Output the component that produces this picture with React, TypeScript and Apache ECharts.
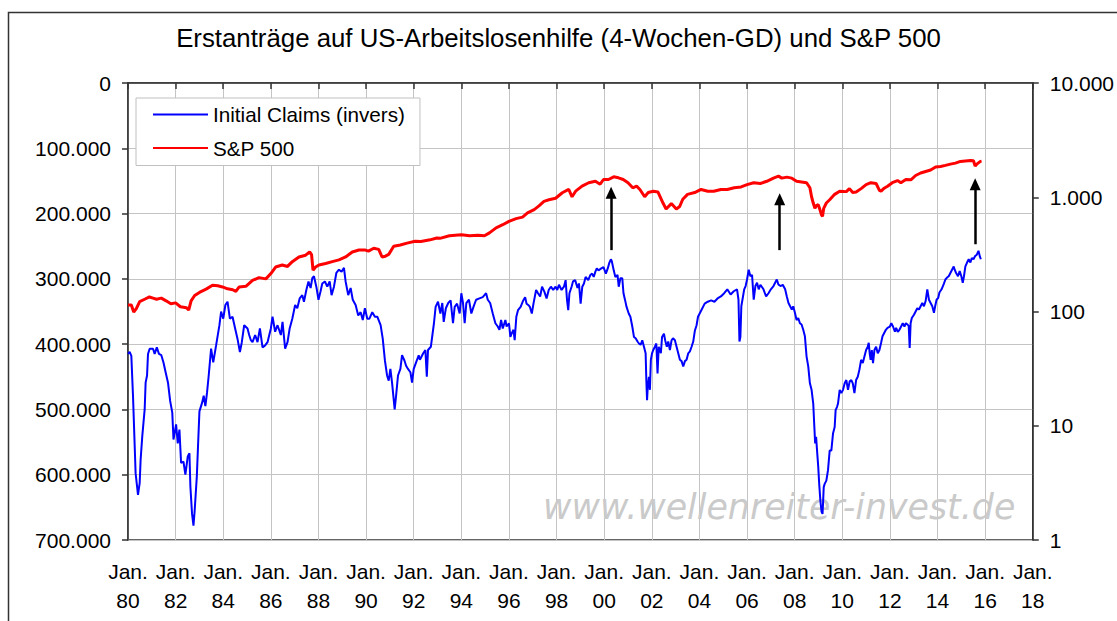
import React, { useEffect, useRef } from "react";
import * as echarts from "echarts";

// Title and legend texts
const TITLE = "Erstanträge auf US-Arbeitslosenhilfe (4-Wochen-GD) und S&P 500";
const CLAIMS_NAME = "Initial Claims (invers)";
const SP_NAME = "S&P 500";
const WATERMARK = "www.wellenreiter-invest.de";

// x axis: decimal years, ticks every 2 years
const X_MIN = 1980;
const X_MAX = 2018;
const X_STEP = 2;

// Initial claims, 4-week average, [decimal year, claims in thousands]
const claimsK: [number, number][] = [
  [1980.0, 415], [1980.07, 412], [1980.14, 418], [1980.21, 479], [1980.32, 598], [1980.42, 631],
  [1980.49, 613], [1980.53, 577], [1980.6, 541], [1980.7, 500], [1980.74, 459], [1980.8, 448],
  [1980.84, 415], [1980.91, 407], [1981.05, 407], [1981.12, 415], [1981.21, 405], [1981.3, 415],
  [1981.4, 417], [1981.49, 428], [1981.58, 443], [1981.68, 459], [1981.77, 487], [1981.86, 505],
  [1981.91, 546], [1982.02, 523], [1982.09, 552], [1982.16, 531], [1982.23, 582], [1982.33, 580],
  [1982.41, 600], [1982.51, 572], [1982.58, 567], [1982.62, 618], [1982.69, 660], [1982.75, 678],
  [1982.8, 655], [1982.89, 603], [1982.94, 557], [1983.0, 503], [1983.11, 490], [1983.18, 479],
  [1983.25, 495], [1983.32, 474], [1983.39, 448], [1983.49, 407], [1983.58, 428], [1983.7, 402],
  [1983.84, 371], [1983.91, 350], [1984.0, 361], [1984.09, 340], [1984.18, 335], [1984.28, 361],
  [1984.39, 358], [1984.5, 376], [1984.6, 392], [1984.7, 412], [1984.78, 397], [1984.88, 371],
  [1985.02, 376], [1985.09, 386], [1985.16, 394], [1985.23, 397], [1985.34, 386], [1985.44, 397],
  [1985.54, 376], [1985.65, 405], [1985.76, 402], [1985.86, 397], [1986.0, 376], [1986.07, 358],
  [1986.18, 381], [1986.28, 371], [1986.42, 386], [1986.49, 366], [1986.6, 407], [1986.7, 397],
  [1986.79, 376], [1986.9, 361], [1987.02, 340], [1987.11, 345], [1987.21, 330], [1987.32, 325],
  [1987.39, 335], [1987.49, 317], [1987.58, 304], [1987.67, 314], [1987.74, 299], [1987.81, 296],
  [1987.91, 312], [1988.0, 332], [1988.08, 320], [1988.16, 307], [1988.27, 304], [1988.37, 312],
  [1988.47, 304], [1988.55, 325], [1988.65, 312], [1988.75, 291], [1988.86, 286], [1988.97, 289],
  [1989.07, 283], [1989.14, 304], [1989.25, 325], [1989.35, 314], [1989.44, 332], [1989.56, 340],
  [1989.67, 356], [1989.77, 351], [1989.86, 363], [1989.95, 345], [1990.05, 361], [1990.14, 361],
  [1990.26, 351], [1990.37, 358], [1990.47, 358], [1990.61, 371], [1990.7, 392], [1990.79, 425],
  [1990.88, 448], [1990.95, 456], [1991.02, 438], [1991.09, 459], [1991.16, 485], [1991.2, 500],
  [1991.26, 479], [1991.34, 448], [1991.44, 438], [1991.51, 417], [1991.61, 425], [1991.68, 433],
  [1991.76, 438], [1991.86, 443], [1991.93, 459], [1992.0, 438], [1992.1, 428], [1992.21, 417],
  [1992.26, 424], [1992.4, 414], [1992.49, 409], [1992.55, 450], [1992.6, 409], [1992.72, 404],
  [1992.85, 368], [1992.92, 343], [1993.02, 335], [1993.12, 353], [1993.2, 337], [1993.26, 366],
  [1993.35, 345], [1993.45, 337], [1993.55, 333], [1993.65, 368], [1993.72, 343], [1993.82, 338],
  [1993.93, 353], [1994.0, 322], [1994.07, 337], [1994.14, 368], [1994.21, 337], [1994.32, 332],
  [1994.42, 353], [1994.51, 343], [1994.62, 332], [1994.76, 330], [1994.9, 328], [1995.04, 322],
  [1995.11, 332], [1995.21, 337], [1995.32, 353], [1995.43, 368], [1995.53, 373], [1995.6, 378],
  [1995.67, 363], [1995.74, 376], [1995.85, 363], [1995.9, 373], [1996.0, 368], [1996.06, 389],
  [1996.11, 384], [1996.19, 378], [1996.24, 394], [1996.31, 358], [1996.38, 348], [1996.49, 343],
  [1996.6, 333], [1996.68, 328], [1996.74, 338], [1996.81, 340], [1996.88, 343], [1996.96, 353],
  [1997.03, 338], [1997.14, 317], [1997.22, 322], [1997.31, 327], [1997.39, 312], [1997.49, 320],
  [1997.58, 330], [1997.67, 317], [1997.76, 312], [1997.86, 317], [1997.96, 312], [1998.03, 317],
  [1998.1, 309], [1998.21, 317], [1998.31, 312], [1998.38, 302], [1998.44, 333], [1998.49, 348],
  [1998.54, 322], [1998.63, 312], [1998.69, 304], [1998.78, 302], [1998.88, 314], [1998.94, 307],
  [1999.01, 338], [1999.08, 312], [1999.15, 307], [1999.22, 297], [1999.33, 302], [1999.42, 294],
  [1999.49, 292], [1999.56, 297], [1999.63, 289], [1999.69, 284], [1999.76, 287], [1999.88, 284],
  [1999.97, 282], [2000.07, 292], [2000.15, 284], [2000.21, 276], [2000.28, 270], [2000.32, 273],
  [2000.4, 287], [2000.47, 297], [2000.56, 294], [2000.61, 312], [2000.68, 299], [2000.76, 299],
  [2000.81, 322], [2000.88, 333], [2000.94, 343], [2001.03, 353], [2001.1, 358], [2001.18, 373],
  [2001.25, 389], [2001.32, 391], [2001.4, 396], [2001.46, 399], [2001.53, 401], [2001.6, 394],
  [2001.67, 404], [2001.74, 414], [2001.77, 455], [2001.8, 486], [2001.83, 465], [2001.88, 450],
  [2001.92, 470], [2001.96, 424], [2002.01, 414], [2002.06, 409], [2002.13, 404], [2002.19, 399],
  [2002.24, 445], [2002.29, 404], [2002.38, 414], [2002.43, 389], [2002.51, 384], [2002.56, 394],
  [2002.63, 404], [2002.69, 396], [2002.76, 409], [2002.83, 394], [2002.89, 391], [2002.97, 394],
  [2003.04, 404], [2003.11, 414], [2003.18, 424], [2003.25, 426], [2003.32, 434], [2003.39, 426],
  [2003.46, 424], [2003.53, 414], [2003.6, 411], [2003.67, 404], [2003.74, 396], [2003.81, 379],
  [2003.88, 371], [2003.94, 358], [2004.08, 348], [2004.22, 338], [2004.35, 335], [2004.49, 333],
  [2004.63, 335], [2004.76, 330], [2004.9, 327], [2005.04, 322], [2005.17, 316], [2005.31, 324],
  [2005.44, 319], [2005.58, 316], [2005.64, 332], [2005.68, 396], [2005.72, 389], [2005.76, 342],
  [2005.83, 327], [2005.88, 316], [2005.94, 311], [2006.0, 301], [2006.07, 286], [2006.14, 296],
  [2006.21, 294], [2006.28, 332], [2006.35, 311], [2006.42, 306], [2006.49, 316], [2006.56, 309],
  [2006.69, 316], [2006.8, 327], [2006.9, 322], [2007.0, 316], [2007.11, 311], [2007.18, 306],
  [2007.25, 301], [2007.32, 309], [2007.42, 311], [2007.5, 309], [2007.6, 316], [2007.67, 327],
  [2007.74, 337], [2007.81, 342], [2007.88, 347], [2007.94, 342], [2008.01, 352], [2008.08, 363],
  [2008.15, 360], [2008.22, 368], [2008.29, 370], [2008.36, 378], [2008.43, 388], [2008.5, 419],
  [2008.57, 434], [2008.64, 460], [2008.71, 470], [2008.78, 491], [2008.82, 522], [2008.86, 552],
  [2008.9, 542], [2008.94, 563], [2008.99, 588], [2009.03, 614], [2009.08, 640], [2009.13, 657],
  [2009.17, 660], [2009.19, 645], [2009.22, 619], [2009.26, 614], [2009.33, 609], [2009.4, 593],
  [2009.47, 563], [2009.54, 563], [2009.61, 537], [2009.68, 527], [2009.72, 501], [2009.78, 496],
  [2009.82, 491], [2009.89, 470], [2009.96, 475], [2010.03, 470], [2010.1, 460], [2010.17, 455],
  [2010.24, 470], [2010.31, 457], [2010.38, 455], [2010.44, 460], [2010.51, 475], [2010.58, 455],
  [2010.65, 450], [2010.72, 439], [2010.79, 424], [2010.86, 429], [2010.93, 419], [2011.0, 409],
  [2011.07, 404], [2011.11, 398], [2011.15, 414], [2011.19, 424], [2011.24, 409], [2011.29, 429],
  [2011.35, 409], [2011.42, 404], [2011.49, 414], [2011.56, 409], [2011.63, 398], [2011.69, 388],
  [2011.76, 383], [2011.83, 378], [2011.9, 375], [2012.0, 373], [2012.06, 368], [2012.13, 373],
  [2012.21, 381], [2012.26, 375], [2012.33, 381], [2012.4, 378], [2012.47, 373], [2012.54, 368],
  [2012.61, 373], [2012.67, 368], [2012.74, 370], [2012.79, 372], [2012.83, 406], [2012.87, 368],
  [2012.92, 360], [2013.01, 355], [2013.08, 350], [2013.15, 345], [2013.22, 347], [2013.29, 342],
  [2013.36, 337], [2013.43, 342], [2013.5, 334], [2013.57, 316], [2013.64, 332], [2013.71, 337],
  [2013.78, 342], [2013.85, 352], [2013.9, 342], [2013.96, 332], [2014.03, 329], [2014.08, 321],
  [2014.17, 316], [2014.26, 308], [2014.33, 301], [2014.4, 298], [2014.47, 296], [2014.54, 291],
  [2014.61, 286], [2014.68, 281], [2014.72, 286], [2014.78, 291], [2014.86, 296], [2014.93, 288],
  [2015.0, 296], [2015.06, 306], [2015.11, 296], [2015.17, 281], [2015.24, 275], [2015.31, 270],
  [2015.38, 275], [2015.44, 268], [2015.51, 270], [2015.58, 265], [2015.65, 263], [2015.72, 257],
  [2015.78, 266], [2015.82, 270],
];

// S&P 500 index, [decimal year, index level]
const sp500: [number, number][] = [
  [1980.0, 114], [1980.14, 114], [1980.24, 99], [1980.35, 106], [1980.49, 122], [1980.7, 128],
  [1980.9, 134], [1981.05, 131], [1981.2, 128], [1981.4, 131], [1981.6, 124], [1981.8, 117],
  [1982.0, 119], [1982.2, 110], [1982.45, 108], [1982.55, 103], [1982.65, 124], [1982.8, 138],
  [1983.0, 147], [1983.28, 157], [1983.55, 170], [1983.77, 168], [1983.97, 164], [1984.18, 158],
  [1984.4, 155], [1984.53, 150], [1984.67, 164], [1984.95, 166], [1985.23, 187], [1985.5, 198],
  [1985.79, 193], [1986.0, 215], [1986.2, 245], [1986.48, 255], [1986.7, 248], [1986.9, 273],
  [1987.18, 300], [1987.46, 311], [1987.63, 332], [1987.71, 315], [1987.77, 230], [1987.88, 245],
  [1988.02, 255], [1988.3, 263], [1988.58, 273], [1988.86, 283], [1989.14, 300], [1989.42, 332],
  [1989.7, 345], [1989.97, 345], [1990.1, 338], [1990.32, 358], [1990.53, 350], [1990.67, 300],
  [1990.81, 305], [1990.95, 316], [1991.16, 372], [1991.44, 382], [1991.72, 397], [1992.06, 412],
  [1992.3, 410], [1992.69, 424], [1992.97, 440], [1993.1, 437], [1993.5, 460], [1994.0, 470],
  [1994.35, 460], [1994.7, 465], [1994.97, 460], [1995.18, 488], [1995.46, 540], [1995.74, 575],
  [1996.0, 615], [1996.3, 650], [1996.57, 670], [1996.78, 730], [1997.06, 780], [1997.26, 840],
  [1997.47, 920], [1997.68, 950], [1997.96, 980], [1998.24, 1095], [1998.51, 1170], [1998.65, 1010],
  [1998.8, 1130], [1999.07, 1250], [1999.35, 1340], [1999.63, 1380], [1999.83, 1300], [1999.97, 1430],
  [2000.18, 1430], [2000.4, 1510], [2000.6, 1480], [2000.8, 1430], [2001.0, 1340], [2001.2, 1210],
  [2001.36, 1250], [2001.5, 1170], [2001.7, 1010], [2001.85, 1100], [2002.06, 1130], [2002.26, 1110],
  [2002.47, 890], [2002.6, 790], [2002.82, 880], [2003.03, 790], [2003.17, 830], [2003.3, 960],
  [2003.5, 1060], [2003.8, 1100], [2004.07, 1170], [2004.35, 1130], [2004.6, 1130], [2004.9, 1170],
  [2005.17, 1170], [2005.46, 1210], [2005.75, 1230], [2006.0, 1290], [2006.28, 1340], [2006.56, 1320],
  [2006.83, 1380], [2007.11, 1470], [2007.32, 1530], [2007.46, 1470], [2007.67, 1500], [2007.88, 1470],
  [2008.08, 1380], [2008.29, 1360], [2008.5, 1340], [2008.64, 1210], [2008.71, 1010], [2008.78, 890],
  [2008.85, 800], [2008.92, 850], [2008.99, 860], [2009.06, 780], [2009.13, 700], [2009.17, 680],
  [2009.22, 800], [2009.33, 890], [2009.47, 950], [2009.68, 1060], [2009.89, 1130], [2010.17, 1120],
  [2010.3, 1190], [2010.44, 1100], [2010.58, 1110], [2010.79, 1190], [2011.0, 1290], [2011.2, 1340],
  [2011.42, 1320], [2011.56, 1150], [2011.63, 1130], [2011.76, 1200], [2011.9, 1250], [2012.1, 1340],
  [2012.32, 1400], [2012.46, 1340], [2012.67, 1430], [2012.88, 1420], [2013.08, 1550], [2013.29, 1630],
  [2013.5, 1680], [2013.71, 1730], [2013.92, 1840], [2014.13, 1860], [2014.33, 1900], [2014.54, 1950],
  [2014.75, 1990], [2014.96, 2060], [2015.17, 2080], [2015.38, 2100], [2015.51, 2090], [2015.58, 1880],
  [2015.65, 1950], [2015.8, 2060], [2015.85, 2070],
];

// Annotation arrows (in claims-axis coordinates): x year, from claims (k), to claims (k)
const arrowYears = [2000.29, 2007.37, 2015.58];
const arrowFromK = [256, 256, 247];
const arrowToK = [168, 178, 155];

const FONT = "'Liberation Sans', Arial, sans-serif";

const fmtDE = (v: number) => String(Math.round(v)).replace(/\B(?=(\d{3})+(?!\d))/g, ".");

export default function App() {
  const ref = useRef<HTMLDivElement>(null);

  useEffect(() => {
    if (!ref.current) return;
    const chart = echarts.init(ref.current, null, { renderer: "svg" });

    const claimsData = claimsK.map(([x, v]) => [x, v * 1000]);
    const arrowData = arrowYears.map((x, i) => [
      { coord: [x, arrowFromK[i] * 1000] },
      { coord: [x, arrowToK[i] * 1000] },
    ]);

    chart.setOption({
      animation: false,
      backgroundColor: "#ffffff",
      textStyle: { fontFamily: FONT },
      title: {
        text: TITLE,
        left: "center",
        top: 20,
        textStyle: { fontFamily: FONT, fontSize: 25.8, fontWeight: "normal", color: "#000" },
      },
      legend: {
        left: 136,
        top: 98,
        orient: "vertical",
        data: [CLAIMS_NAME, SP_NAME],
        icon: "rect",
        itemWidth: 55,
        itemHeight: 2,
        itemGap: 12.5,
        padding: [6, 15, 7, 17],
        backgroundColor: "#ffffff",
        borderColor: "#c0c0c0",
        borderWidth: 1,
        borderRadius: 0,
        textStyle: { fontFamily: FONT, fontSize: 20.7, color: "#000" },
      },
      grid: {
        left: 128,
        top: 83,
        width: 907,
        height: 457,
        show: true,
        borderColor: "#333",
        borderWidth: 1.5,
        backgroundColor: "transparent",
      },
      xAxis: {
        type: "value",
        min: X_MIN,
        max: X_MAX,
        interval: X_STEP,
        axisLine: { show: true, lineStyle: { color: "#333", width: 1.5 } },
        axisTick: { show: true, length: 6, lineStyle: { color: "#333", width: 1.5 } },
        splitLine: { show: true, lineStyle: { color: "#c4c4c4", width: 1 } },
        axisLabel: {
          margin: 17,
          fontFamily: FONT,
          fontSize: 21,
          color: "#000",
          lineHeight: 29,
          formatter: (v: number) => `Jan.\n${String(v % 100).padStart(2, "0")}`,
        },
      },
      yAxis: [
        {
          type: "value",
          inverse: true,
          min: 0,
          max: 700000,
          interval: 100000,
          axisLine: { show: true, lineStyle: { color: "#333", width: 1.5 } },
          axisTick: { show: true, length: 6, lineStyle: { color: "#333", width: 1.5 } },
          splitLine: { show: true, lineStyle: { color: "#c4c4c4", width: 1 } },
          axisLabel: { margin: 17, fontFamily: FONT, fontSize: 21, color: "#000", formatter: fmtDE },
        },
        {
          type: "log",
          logBase: 10,
          min: 1,
          max: 10000,
          position: "right",
          axisLine: { show: true, lineStyle: { color: "#333", width: 1.5 } },
          axisTick: { show: true, length: 6, lineStyle: { color: "#333", width: 1.5 } },
          splitLine: { show: false },
          minorTick: { show: false },
          axisLabel: { margin: 17, fontFamily: FONT, fontSize: 21, color: "#000", formatter: fmtDE },
        },
      ],
      series: [
        {
          name: CLAIMS_NAME,
          type: "line",
          yAxisIndex: 0,
          data: claimsData,
          symbol: "none",
          color: "#0000ff",
          lineStyle: { color: "#0000ff", width: 2 },
          z: 3,
          markLine: {
            silent: true,
            symbol: ["none", "triangle"],
            symbolSize: [11, 12],
            label: { show: false },
            lineStyle: { color: "#000", width: 2.5, type: "solid" },
            data: arrowData,
            z: 5,
          },
        },
        {
          name: SP_NAME,
          type: "line",
          yAxisIndex: 1,
          data: sp500,
          symbol: "none",
          color: "#ff0000",
          lineStyle: { color: "#ff0000", width: 3 },
          z: 3,
        },
      ],
      graphic: [
        {
          type: "rect",
          left: 6,
          top: 10,
          shape: { x: 0, y: 0, width: 1200, height: 700 },
          style: { fill: "none", stroke: "#333", lineWidth: 1.5 },
          silent: true,
          z: 0,
        },
        {
          type: "text",
          x: 543,
          y: 507,
          style: {
            text: WATERMARK,
            fontFamily: "'DejaVu Sans', sans-serif",
            fontStyle: "italic",
            fontSize: 34.8,
            fill: "#cacaca",
            textVerticalAlign: "middle",
            verticalAlign: "middle",
          },
          silent: true,
          z: 1,
        },
      ],
    });

    return () => chart.dispose();
  }, []);

  return (
    <div
      ref={ref}
      style={{ position: "absolute", left: 0, top: 0, width: 1117, height: 621 }}
    />
  );
}
